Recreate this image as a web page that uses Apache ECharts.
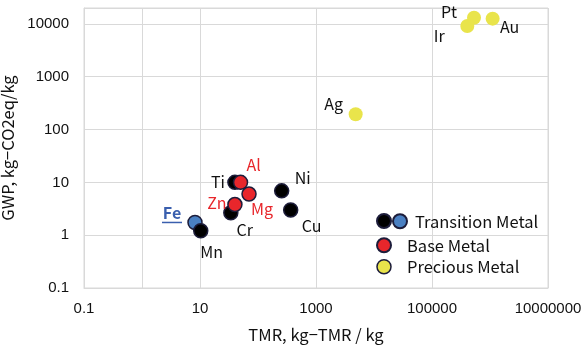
<!DOCTYPE html>
<html><head><meta charset="utf-8">
<script src="https://cdn.jsdelivr.net/npm/echarts@6/dist/echarts.min.js"></script>
<style>html,body{margin:0;padding:0;background:#fff}#c{width:584px;height:345px}</style>
</head><body><div id="c"></div>
<script>
// ---- data ----
const transNames = ['Ti', 'Cr', 'Mn', 'Ni', 'Cu'];
const transTMR   = [40, 34, 10.3, 256, 366];
const transGWP   = [10, 2.65, 1.21, 6.9, 3.0];
const feNames = ['Fe'];
const feTMR   = [8.2];
const feGWP   = [1.74];
const baseNames = ['Al', 'Zn', 'Mg'];
const baseTMR   = [50, 40, 70];
const baseGWP   = [10, 3.8, 6.0];
const preciousNames = ['Pt', 'Ir', 'Au', 'Ag'];
const preciousTMR   = [530000, 406000, 1110000, 4830];
const preciousGWP   = [13100, 9120, 12560, 195];
const xMin = 0.1, xMax = 10000000;
const yMin = 0.1, yMax = 20000;
const yAxisCross = [1];

// ---- styles ----
const labelOffsets = {
  Ti: [-17, 0], Al: [13, -17], Zn: [-18, -2], Mg: [13, 15], Fe: [-23, -8],
  Mn: [11, 21], Cr: [14, 17], Ni: [21, -13], Cu: [21, 16],
  Pt: [-25, -6], Ir: [-28, 10], Au: [17, 8], Ag: [-22, -10]
};
const FONT = '"Noto Sans CJK JP", sans-serif';
const TICKFONT = '"Liberation Sans", Arial, sans-serif';
const BORDER = '#1c1c3a';
const GRID = '#d9d9d9';
const cBlack = '#000000', cBlue = '#4a80c2', cRed = '#e8262b', cYellow = '#e9e44b';

function pts(names, xs, ys, color) {
  return names.map((n, i) => ({
    name: n, value: [xs[i], ys[i]],
    label: { offset: labelOffsets[n], color: color }
  }));
}
function plain(v) {
  if (v >= 1) return String(Math.round(v));
  return String(Number(v.toPrecision(3)));
}

const chart = echarts.init(document.getElementById('c'));
const baseLabel = {
  show: true, position: 'inside', formatter: '{b}',
  fontFamily: FONT, fontSize: 16, align: 'center', verticalAlign: 'middle'
};

chart.setOption({
  animation: false,
  backgroundColor: '#fff',
  textStyle: { fontFamily: FONT },
  grid: { left: 84, right: 36, top: 8, bottom: 57, show: true, borderColor: GRID, borderWidth: 1,
          containLabel: false, outerBoundsMode: 'none' },
  xAxis: {
    type: 'log', min: xMin, max: xMax, interval: 2, logBase: 10,
    name: 'TMR, kg\u2212TMR / kg', nameLocation: 'middle', nameGap: 38,
    nameTextStyle: { fontFamily: FONT, fontSize: 16.5, color: '#111' },
    axisLine: { show: true, lineStyle: { color: GRID } },
    axisTick: { show: false },
    axisLabel: { fontFamily: TICKFONT, fontSize: 15, color: '#111', margin: 13, formatter: plain },
    splitLine: { show: true, lineStyle: { color: GRID, width: 1 } }
  },
  yAxis: {
    type: 'log', min: yMin, max: yMax, logBase: 10,
    name: 'GWP, kg\u2212CO2eq/kg', nameLocation: 'middle', nameGap: 55,
    nameTextStyle: { fontFamily: FONT, fontSize: 16.5, color: '#111' },
    axisLine: { show: true, lineStyle: { color: GRID } },
    axisTick: { show: false },
    axisLabel: { fontFamily: TICKFONT, fontSize: 15, color: '#111', margin: 15, showMaxLabel: false, formatter: plain },
    splitLine: { show: true, lineStyle: { color: GRID, width: 1 } }
  },
  legend: [
    { data: ['Transition Metal'], left: 387, top: 208, itemWidth: 20, itemHeight: 14,
      textStyle: { fontFamily: FONT, fontSize: 16.5, color: '#111' }, selectedMode: false },
    { data: [{ name: 'Transition Metal (other)' }], left: 371, top: 208, itemWidth: 14, itemHeight: 14,
      formatter: () => '', textStyle: { fontSize: 16.5 }, selectedMode: false },
    { data: ['Base Metal', { name: 'Precious Metal', itemStyle: { borderColor: BORDER, borderWidth: 1.5 } }],
      orient: 'vertical', left: 371, top: 232, itemWidth: 36, itemHeight: 14, itemGap: 5,
      textStyle: { fontFamily: FONT, fontSize: 16.5, color: '#111' }, selectedMode: false }
  ],
  series: [
    {
      name: 'Transition Metal', type: 'scatter', symbolSize: 14,
      itemStyle: { color: cBlue, borderColor: BORDER, borderWidth: 1.5, opacity: 1 },
      label: Object.assign({}, baseLabel, {
        formatter: '{a|{b}}\n{u|}',
        rich: {
          a: { fontFamily: FONT, fontSize: 16, fontWeight: 'bold', color: '#3a5fae', align: 'center', lineHeight: 16 },
          u: { width: 20, height: 1.5, lineHeight: 3, backgroundColor: '#3a5fae', align: 'center' }
        }
      }),
      data: pts(feNames, feTMR, feGWP, '#3a5fae'),
      markLine: {
        silent: true, symbol: 'none', label: { show: false },
        lineStyle: { color: GRID, type: 'solid', width: 1 },
        data: yAxisCross.map(v => ({ xAxis: v }))
      }
    },
    {
      name: 'Transition Metal (other)', type: 'scatter', symbolSize: 14,
      itemStyle: { color: cBlack, borderColor: BORDER, borderWidth: 1.5, opacity: 1 },
      label: baseLabel,
      data: pts(transNames, transTMR, transGWP, '#111')
    },
    {
      name: 'Base Metal', type: 'scatter', symbolSize: 14,
      itemStyle: { color: cRed, borderColor: BORDER, borderWidth: 1.5, opacity: 1 },
      label: baseLabel,
      data: pts(baseNames, baseTMR, baseGWP, cRed)
    },
    {
      name: 'Precious Metal', type: 'scatter', symbolSize: 14,
      itemStyle: { color: cYellow, opacity: 1 },
      label: baseLabel,
      data: pts(preciousNames, preciousTMR, preciousGWP, '#111')
    }
  ]
});
</script></body></html>
